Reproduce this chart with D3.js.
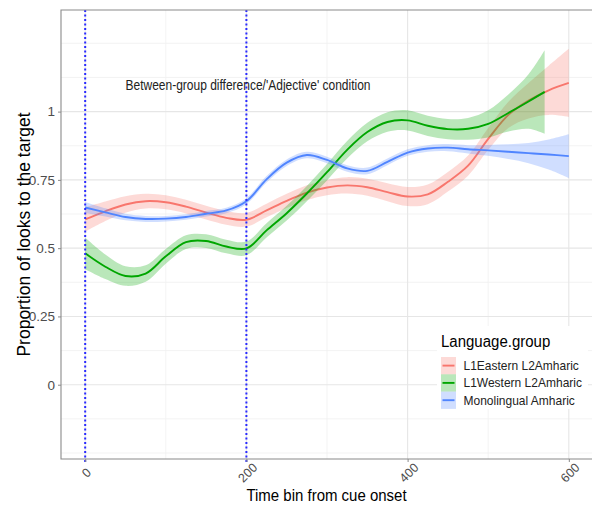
<!DOCTYPE html>
<html>
<head>
<meta charset="utf-8">
<script src="https://cdn.jsdelivr.net/npm/d3@7"></script>
<style>
  html, body { margin: 0; padding: 0; background: #fff; }
  svg { display: block; font-family: "Liberation Sans", Arial, Helvetica, sans-serif; }
</style>
</head>
<body>
<svg id="chart" width="592" height="507"></svg>
<script>
// ---------------- data ----------------
const timeBins = [0,25,50,75,100,125,150,175,200,225,250,275,300,325,350,375,400,425,450,475,500,525,550,575,600];
const timeBinsGreen = [0,25,50,75,100,125,150,175,200,225,250,275,300,325,350,375,400,425,450,475,500,525,550,570];

const groups = ["L1Eastern L2Amharic", "L1Western L2Amharic", "Monolingual Amharic"];
const groupColors = ["#F8766D", "#00A600", "#5085FF"];

const eastFit = [0.605,0.635,0.660,0.672,0.668,0.652,0.630,0.611,0.604,0.638,0.673,0.703,0.722,0.730,0.723,0.705,0.689,0.697,0.743,0.802,0.900,0.988,1.040,1.078,1.105];
const eastSE  = [0.045,0.036,0.030,0.027,0.026,0.025,0.025,0.025,0.025,0.025,0.026,0.027,0.028,0.030,0.031,0.033,0.035,0.036,0.036,0.037,0.040,0.048,0.065,0.090,0.125];

const westFit = [0.481,0.432,0.398,0.407,0.470,0.522,0.526,0.506,0.499,0.565,0.628,0.700,0.778,0.860,0.925,0.962,0.968,0.948,0.936,0.937,0.955,0.995,1.037,1.072];
const westSE  = [0.058,0.045,0.036,0.030,0.027,0.025,0.025,0.025,0.025,0.026,0.027,0.028,0.030,0.032,0.034,0.036,0.037,0.037,0.037,0.040,0.050,0.068,0.100,0.153];

const monoFit = [0.649,0.631,0.614,0.607,0.608,0.614,0.626,0.638,0.672,0.752,0.813,0.841,0.823,0.792,0.783,0.816,0.850,0.865,0.868,0.862,0.858,0.853,0.848,0.843,0.837];
const monoSE  = [0.020,0.015,0.012,0.011,0.010,0.010,0.010,0.010,0.011,0.012,0.012,0.012,0.012,0.012,0.012,0.012,0.012,0.012,0.013,0.015,0.020,0.027,0.037,0.055,0.080];

const xTicks = [0, 200, 400, 600];
const xMinor = [100, 300, 500];
const yTicks = [0, 0.25, 0.5, 0.75, 1];
const yTickLabels = ["0", "0.25", "0.5", "0.75", "1"];
const yMinor = [-0.25, -0.125, 0.125, 0.375, 0.625, 0.875, 1.125, 1.25];
const vLines = [0, 200];

const annotation = "Between-group difference/'Adjective' condition";
const xTitle = "Time bin from cue onset";
const yTitle = "Proportion of looks to the target";
const legendTitle = "Language.group";

// ---------------- layout ----------------
const svg = d3.select("#chart");
const panel = { left: 61, top: 10, right: 593, bottom: 459 };

const x = d3.scaleLinear().domain([-30, 630]).range([panel.left, panel.right]);
const y = d3.scaleLinear().domain([-0.272, 1.372]).range([panel.bottom, panel.top]);

const series = [
  { name: groups[0], color: groupColors[0], t: timeBins, fit: eastFit, se: eastSE },
  { name: groups[1], color: groupColors[1], t: timeBinsGreen, fit: westFit, se: westSE },
  { name: groups[2], color: groupColors[2], t: timeBins, fit: monoFit, se: monoSE }
];

// grid
const g = svg.append("g");
g.selectAll(".ymin").data(yMinor).join("line")
  .attr("x1", panel.left).attr("x2", panel.right)
  .attr("y1", d => y(d)).attr("y2", d => y(d))
  .attr("stroke", "#f0f0f0").attr("stroke-width", 0.8);
g.selectAll(".xmin").data(xMinor).join("line")
  .attr("y1", panel.top).attr("y2", panel.bottom)
  .attr("x1", d => x(d)).attr("x2", d => x(d))
  .attr("stroke", "#f0f0f0").attr("stroke-width", 0.8);
g.selectAll(".ymaj").data(yTicks).join("line")
  .attr("x1", panel.left).attr("x2", panel.right)
  .attr("y1", d => y(d)).attr("y2", d => y(d))
  .attr("stroke", "#e6e6e6").attr("stroke-width", 1.1);
g.selectAll(".xmaj").data(xTicks).join("line")
  .attr("y1", panel.top).attr("y2", panel.bottom)
  .attr("x1", d => x(d)).attr("x2", d => x(d))
  .attr("stroke", "#e6e6e6").attr("stroke-width", 1.1);

// smooths
const curve = d3.curveCatmullRom.alpha(0.5);
series.forEach(s => {
  const pts = s.t.map((t, i) => ({ t, v: s.fit[i], se: s.se[i] }));
  const area = d3.area().curve(curve)
    .x(d => x(d.t)).y0(d => y(d.v - d.se)).y1(d => y(d.v + d.se));
  const line = d3.line().curve(curve).x(d => x(d.t)).y(d => y(d.v));
  svg.append("path").datum(pts).attr("d", area)
    .attr("fill", s.color).attr("fill-opacity", 0.27).attr("stroke", "none");
  svg.append("path").datum(pts).attr("d", line)
    .attr("fill", "none").attr("stroke", s.color).attr("stroke-width", 1.9);
});

// vertical dotted lines
svg.selectAll(".vline").data(vLines).join("line")
  .attr("x1", d => x(d)).attr("x2", d => x(d))
  .attr("y1", panel.top).attr("y2", panel.bottom + 3)
  .attr("stroke", "#2a2aff").attr("stroke-width", 2)
  .attr("stroke-dasharray", "2,2.5");

// annotation
svg.append("text").attr("transform", "translate(125.5,90) scale(1,1.15)")
  .attr("font-size", 12).attr("fill", "#222").text(annotation);

// panel border (left, top, bottom)
svg.append("path")
  .attr("d", `M${panel.right},${panel.top}H${panel.left}V${panel.bottom}H${panel.right}`)
  .attr("fill", "none").attr("stroke", "#8a8a8a").attr("stroke-width", 1.1);

// axes ticks
const yAxis = d3.axisLeft(y).tickValues(yTicks).tickSize(3).tickPadding(3)
  .tickFormat((d, i) => yTickLabels[i]);
const ya = svg.append("g").attr("transform", `translate(${panel.left},0)`).call(yAxis);
ya.select(".domain").remove();
ya.selectAll(".tick line").attr("stroke", "#8a8a8a");
ya.selectAll(".tick text").attr("font-size", 13.5).attr("fill", "#4d4d4d")
  .attr("font-family", "Liberation Sans, Arial, sans-serif");

const xAxis = d3.axisBottom(x).tickValues(xTicks).tickSize(3).tickFormat(d3.format("d"));
const xa = svg.append("g").attr("transform", `translate(0,${panel.bottom})`).call(xAxis);
xa.select(".domain").remove();
xa.selectAll(".tick line").attr("stroke", "#8a8a8a");
xa.selectAll(".tick text")
  .attr("font-size", 12.5).attr("fill", "#4d4d4d")
  .attr("font-family", "Liberation Sans, Arial, sans-serif")
  .attr("text-anchor", "middle").attr("dy", null).attr("y", null)
  .attr("dominant-baseline", "central")
  .attr("transform", "translate(1,14) rotate(-45)");

// axis titles
svg.append("text").attr("transform", `translate(${(panel.left + 592) / 2},501) scale(1,1.12)`)
  .attr("text-anchor", "middle").attr("font-size", 15).attr("fill", "#000").text(xTitle);
svg.append("text").attr("transform", `translate(30,${(panel.top + panel.bottom) / 2}) rotate(-90)`)
  .attr("text-anchor", "middle").attr("font-size", 17.5).attr("fill", "#000").text(yTitle);

// legend
const lg = svg.append("g").attr("transform", "translate(437,326)");
lg.append("rect").attr("x", 0).attr("y", 0).attr("width", 151).attr("height", 83).attr("fill", "#fff");
lg.append("text").attr("transform", "translate(4,21) scale(1,1.08)").attr("font-size", 15).attr("fill", "#000").text(legendTitle);
series.forEach((s, i) => {
  const ky = 31 + i * 17.3;
  lg.append("rect").attr("x", 4).attr("y", ky).attr("width", 15).attr("height", 17.3)
    .attr("fill", s.color).attr("fill-opacity", 0.27);
  lg.append("line").attr("x1", 5.5).attr("x2", 17.5).attr("y1", ky + 8.6).attr("y2", ky + 8.6)
    .attr("stroke", s.color).attr("stroke-width", 1.9);
  lg.append("text").attr("transform", `translate(26.5,${ky + 13}) scale(1,1.1)`)
    .attr("font-size", 12).attr("fill", "#222").text(s.name);
});
</script>
</body>
</html>
